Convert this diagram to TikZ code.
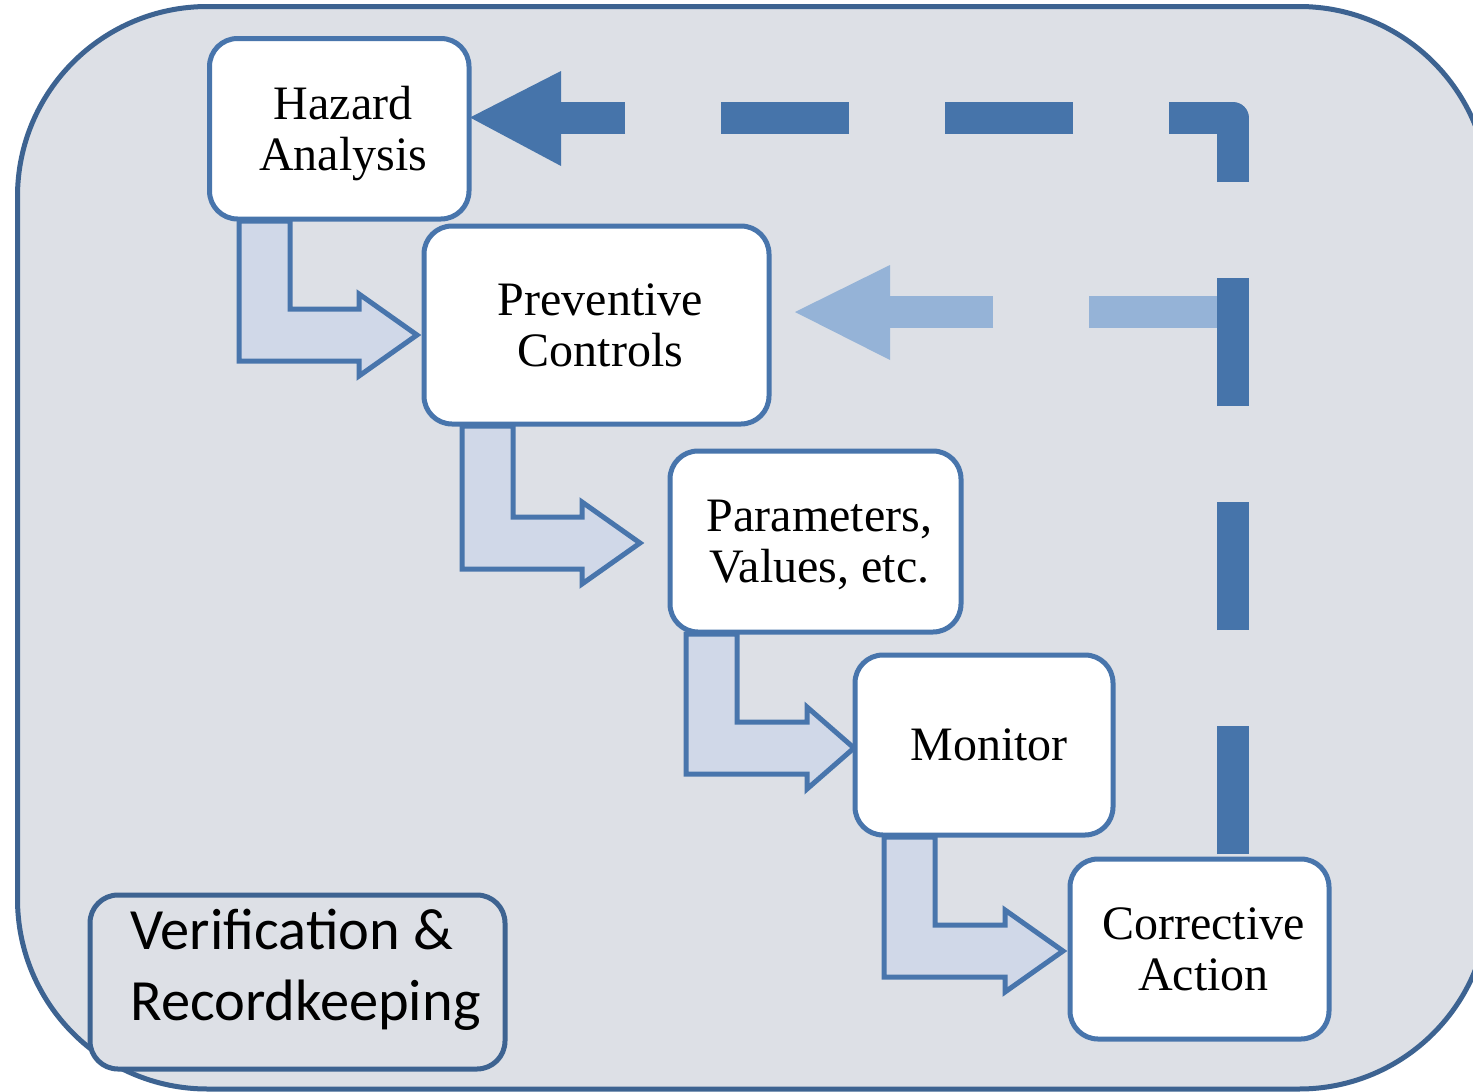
\documentclass[tikz,border=0pt]{standalone}
\usepackage{fontspec}
\setmainfont{Liberation Serif}
\newfontfamily\calibri{Carlito}
\definecolor{bgc}{RGB}{221,224,230}
\definecolor{outerc}{RGB}{61,99,145}
\definecolor{boxc}{RGB}{72,117,172}
\definecolor{dashc}{RGB}{70,116,170}
\definecolor{lightc}{RGB}{149,179,215}
\definecolor{bentc}{RGB}{208,216,232}
\newcommand\bentarr[5]{% #1 outer x, #2 top y, #3 head base x, #4 centre y, #5 tip x
  \draw[bent] (#1,#2) -- ({#1+51},#2) -- ({#1+51},{#4-26}) -- (#3,{#4-26}) -- (#3,{#4-41})
    -- (#5,#4) -- (#3,{#4+41}) -- (#3,{#4+26}) -- (#1,{#4+26}) -- cycle;}
\newcommand\sh{\hspace*{4pt}}
\begin{document}
\begin{tikzpicture}[x=0.5pt,y=-0.5pt,
  stepbox/.style={draw=boxc, line width=2.5pt, fill=white, rounded corners=14pt,
    align=center, inner sep=0pt, font=\fontsize{24}{25.5}\selectfont, text depth=0pt},
  bent/.style={draw=boxc, fill=bentc, line width=2.5pt, line join=miter},
  darkdash/.style={draw=dashc, line width=16pt, dash pattern=on 64pt off 48pt, line join=round},
  lightdash/.style={draw=lightc, line width=16pt, dash pattern=on 64pt off 48pt},
]
\useasboundingbox (0,0) rectangle (1473,1092);
\fill[white] (0,0) rectangle (1473,1092);
\begin{scope}
  \clip (0,0) rectangle (1473,1092);
  \draw[outerc, line width=2.5pt, fill=bgc, rounded corners=95pt] (17.5,6.5) rectangle (1489,1089);
\end{scope}

% bent block arrows
\bentarr{239}{221}{359}{335}{417}
\bentarr{462}{426}{582}{543}{640}
\bentarr{686}{634}{807}{748}{854}
\bentarr{884}{837}{1005}{951}{1063}

% light dashed feedback arrow
\coordinate (l0) at (1217,312);
\coordinate (l1) at (880,312);
\draw[lightdash] (l0) -- (l1);
\fill[lightc] (890,265) -- (795,312) -- (890,360) -- cycle;

% dark dashed feedback arrow
\coordinate (d0) at (1233,854);
\coordinate (d1) at (550,118);
\draw[darkdash] (d0) |- (d1);
\fill[dashc] (561,71) -- (470,117.5) -- (561,166) -- cycle;

% boxes
\node[stepbox, minimum width=129.75pt, minimum height=90.25pt] (ha) at (339.25,128.75) {\sh Hazard\\\sh Analysis};
\node[stepbox, minimum width=172.5pt, minimum height=99pt] (pc) at (596.5,325) {\sh Preventive\\\sh Controls};
\node[stepbox, minimum width=145.5pt, minimum height=90.5pt] (pv) at (815.5,541.5) {\sh Parameters,\\\sh Values, etc.};
\node[stepbox, minimum width=129pt, minimum height=90pt] (mo) at (984,745) {\hspace*{5pt}Monitor};
\node[stepbox, minimum width=129.5pt, minimum height=90pt] (ca) at (1199.5,949) {\sh Corrective\\\sh Action};

\node[draw=outerc, line width=2.5pt, fill=bgc, rounded corners=14pt, minimum width=207.5pt,
  minimum height=87pt, inner sep=0pt] (vr) at (297.5,982) {};
\node[anchor=north west, inner sep=0pt, align=left, font=\calibri\fontsize{29.2}{35.5}\selectfont]
  (vrt) at (130,909) {Verification \&\\Recordkeeping};
\end{tikzpicture}
\end{document}
